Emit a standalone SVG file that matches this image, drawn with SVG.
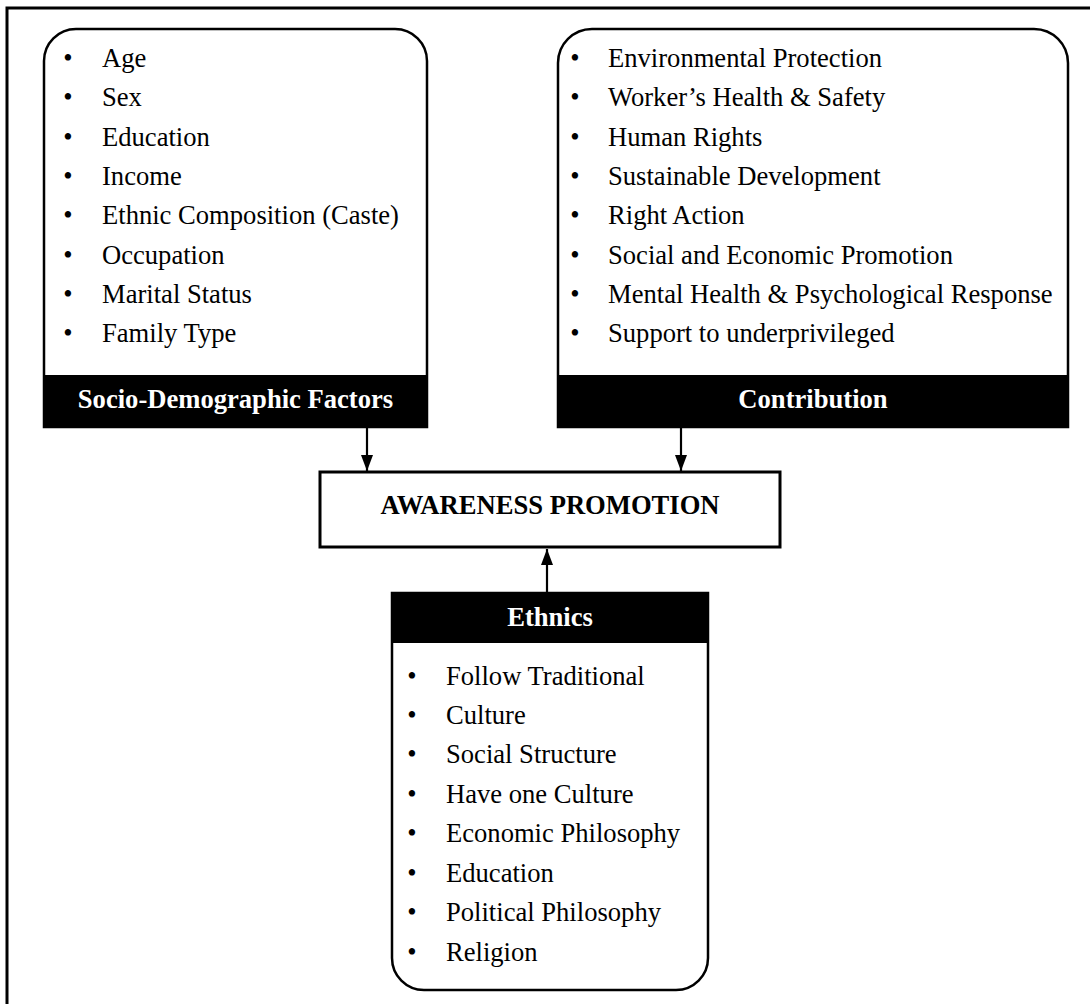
<svg xmlns="http://www.w3.org/2000/svg" width="1090" height="1004" viewBox="0 0 1090 1004">
  <style>
    .item { font-family: "Liberation Serif", "Times New Roman", serif; font-size: 26.6px; fill: #000; }
    .bul { font-family: "Liberation Serif", "Times New Roman", serif; font-size: 26.6px; fill: #000; text-anchor: middle; }
    .title { font-family: "Liberation Serif", "Times New Roman", serif; font-size: 26.6px; font-weight: bold; fill: #fff; text-anchor: middle; }
    .main { font-family: "Liberation Serif", "Times New Roman", serif; font-size: 26.6px; font-weight: bold; fill: #000; text-anchor: middle; }
    .box { fill: #fff; stroke: #000; stroke-width: 2.5; }
    .band { fill: #000; }
    .conn { stroke: #000; stroke-width: 2.2; fill: none; }
  </style>
  <defs>
    <marker id="arrow" viewBox="0 0 16 12" refX="16" refY="6" markerWidth="16" markerHeight="12" markerUnits="userSpaceOnUse" orient="auto">
      <path d="M0,0 L16,6 L0,12 Z" fill="#000"/>
    </marker>
  </defs>
  <rect x="0" y="0" width="1090" height="1004" fill="#fff"/>
  <path d="M7,1010 V8 H1100" fill="none" stroke="#000" stroke-width="3"/>

  <g id="socio-demographic">
    <path class="box" d="M44,427 V61 A32,32 0 0 1 76,29 H395 A32,32 0 0 1 427,61 V427 Z"/>
    <rect class="band" x="43" y="375" width="385" height="52"/>
    <text class="title" x="235.5" y="408">Socio-Demographic Factors</text>
    <g>
      <text class="bul" x="68" y="67">•</text><text class="item" x="102" y="67">Age</text>
      <text class="bul" x="68" y="106">•</text><text class="item" x="102" y="106">Sex</text>
      <text class="bul" x="68" y="146">•</text><text class="item" x="102" y="146">Education</text>
      <text class="bul" x="68" y="185">•</text><text class="item" x="102" y="185">Income</text>
      <text class="bul" x="68" y="224">•</text><text class="item" x="102" y="224">Ethnic Composition (Caste)</text>
      <text class="bul" x="68" y="264">•</text><text class="item" x="102" y="264">Occupation</text>
      <text class="bul" x="68" y="303">•</text><text class="item" x="102" y="303">Marital Status</text>
      <text class="bul" x="68" y="342">•</text><text class="item" x="102" y="342">Family Type</text>
    </g>
  </g>

  <g id="contribution">
    <path class="box" d="M558,427 V63 A34,34 0 0 1 592,29 H1034 A34,34 0 0 1 1068,63 V427 Z"/>
    <rect class="band" x="557" y="375" width="512" height="52"/>
    <text class="title" x="813" y="408">Contribution</text>
    <g>
      <text class="bul" x="575" y="67">•</text><text class="item" x="608" y="67">Environmental Protection</text>
      <text class="bul" x="575" y="106">•</text><text class="item" x="608" y="106">Worker’s Health &amp; Safety</text>
      <text class="bul" x="575" y="146">•</text><text class="item" x="608" y="146">Human Rights</text>
      <text class="bul" x="575" y="185">•</text><text class="item" x="608" y="185">Sustainable Development</text>
      <text class="bul" x="575" y="224">•</text><text class="item" x="608" y="224">Right Action</text>
      <text class="bul" x="575" y="264">•</text><text class="item" x="608" y="264">Social and Economic Promotion</text>
      <text class="bul" x="575" y="303">•</text><text class="item" x="608" y="303">Mental Health &amp; Psychological Response</text>
      <text class="bul" x="575" y="342">•</text><text class="item" x="608" y="342">Support to underprivileged</text>
    </g>
  </g>

  <g id="awareness-promotion">
    <rect x="320" y="472" width="460" height="75" fill="#fff" stroke="#000" stroke-width="3"/>
    <text class="main" x="550" y="514">AWARENESS PROMOTION</text>
  </g>

  <g id="ethnics">
    <path class="box" d="M392,593 H708 V958 A32,32 0 0 1 676,990 H424 A32,32 0 0 1 392,958 Z"/>
    <rect class="band" x="391" y="593" width="318" height="50"/>
    <text class="title" x="550" y="626">Ethnics</text>
    <g>
      <text class="bul" x="412" y="685">•</text><text class="item" x="446" y="685">Follow Traditional</text>
      <text class="bul" x="412" y="724">•</text><text class="item" x="446" y="724">Culture</text>
      <text class="bul" x="412" y="763">•</text><text class="item" x="446" y="763">Social Structure</text>
      <text class="bul" x="412" y="803">•</text><text class="item" x="446" y="803">Have one Culture</text>
      <text class="bul" x="412" y="842">•</text><text class="item" x="446" y="842">Economic Philosophy</text>
      <text class="bul" x="412" y="882">•</text><text class="item" x="446" y="882">Education</text>
      <text class="bul" x="412" y="921">•</text><text class="item" x="446" y="921">Political Philosophy</text>
      <text class="bul" x="412" y="961">•</text><text class="item" x="446" y="961">Religion</text>
    </g>
  </g>

  <g id="connectors">
    <line class="conn" x1="367" y1="427" x2="367" y2="471" marker-end="url(#arrow)"/>
    <line class="conn" x1="681" y1="427" x2="681" y2="471" marker-end="url(#arrow)"/>
    <line class="conn" x1="547" y1="593" x2="547" y2="549" marker-end="url(#arrow)"/>
  </g>
</svg>
